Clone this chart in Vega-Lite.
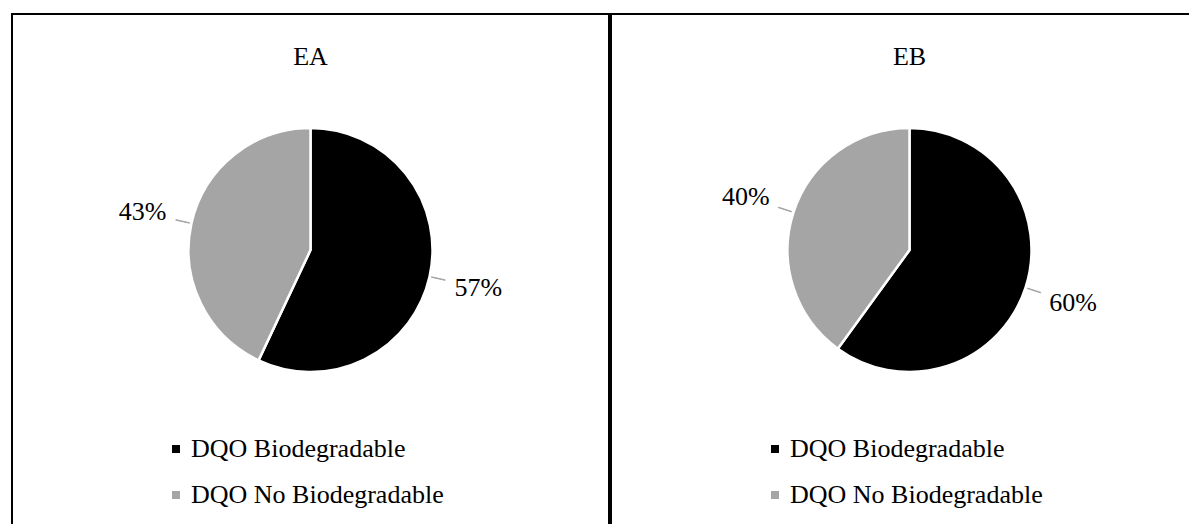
{
  "$schema": "https://vega.github.io/schema/vega-lite/v6.json",
  "padding": {"left": 11, "top": 13, "right": 0, "bottom": 0},
  "spacing": 0,
  "background": "white",
  "datasets": {
    "ea": [
      {"cat": "DQO Biodegradable", "value": 0.57},
      {"cat": "DQO No Biodegradable", "value": 0.43}
    ],
    "eb": [
      {"cat": "DQO Biodegradable", "value": 0.60},
      {"cat": "DQO No Biodegradable", "value": 0.40}
    ]
  },
  "config": {
    "font": "Liberation Serif",
    "view": {"stroke": "black", "strokeWidth": 2},
    "title": {"fontSize": 26, "fontWeight": "normal", "font": "Liberation Serif", "color": "black", "anchor": "middle"},
    "legend": {
      "orient": "none", "legendX": 151, "legendY": 422, "title": null,
      "symbolType": "square", "symbolSize": 64, "symbolStrokeWidth": 0,
      "labelFontSize": 26, "labelFont": "Liberation Serif", "labelColor": "black",
      "rowPadding": 20, "labelOffset": 2, "padding": 0, "labelLimit": 500
    }
  },
  "resolve": {"scale": {"color": "independent"}, "legend": {"color": "independent"}},
  "hconcat": [
    {
      "width": 597, "height": 560,
      "title": {"text": "EA", "offset": -56},
      "data": {"name": "ea"},
      "layer": [
        {
          "mark": {"type": "point", "opacity": 0, "size": 0, "filled": true},
          "encoding": {
            "x": {"datum": 0, "type": "quantitative", "axis": null},
            "y": {"datum": 0, "type": "quantitative", "axis": null}
          }
        },
        {
          "mark": {"type": "arc", "outerRadius": 122, "y": 236, "stroke": "white", "strokeWidth": 2.5},
          "encoding": {
            "theta": {"field": "value", "type": "quantitative", "stack": true},
            "order": {"field": "cat", "type": "ordinal", "sort": "ascending"},
            "color": {"field": "cat", "type": "nominal", "scale": {"domain": ["DQO Biodegradable", "DQO No Biodegradable"], "range": ["#000000", "#a5a5a5"]}}
          }
        },
        {
          "transform": [{"stack": "value", "groupby": [], "sort": [{"field": "cat", "order": "ascending"}], "as": ["s0", "s1"]}],
          "mark": {"type": "arc", "y": 236, "radius": 138, "radius2": 124, "theta": {"expr": "PI*(datum.s0+datum.s1) - 0.002"}, "theta2": {"expr": "PI*(datum.s0+datum.s1) + 0.002"}, "color": "#a6a6a6", "stroke": "#a6a6a6", "strokeWidth": 1},
          "encoding": {}
        },
        {
          "mark": {"type": "text", "radius": 172, "y": 236, "fontSize": 26, "font": "Liberation Serif", "color": "black"},
          "encoding": {
            "theta": {"field": "value", "type": "quantitative", "stack": true},
            "order": {"field": "cat", "type": "ordinal", "sort": "ascending"},
            "text": {"field": "value", "type": "quantitative", "format": ".0%"}
          }
        }
      ]
    },
    {
      "width": 597, "height": 560,
      "title": {"text": "EB", "offset": -56},
      "data": {"name": "eb"},
      "layer": [
        {
          "mark": {"type": "point", "opacity": 0, "size": 0, "filled": true},
          "encoding": {
            "x": {"datum": 0, "type": "quantitative", "axis": null},
            "y": {"datum": 0, "type": "quantitative", "axis": null}
          }
        },
        {
          "mark": {"type": "arc", "outerRadius": 122, "y": 236, "stroke": "white", "strokeWidth": 2.5},
          "encoding": {
            "theta": {"field": "value", "type": "quantitative", "stack": true},
            "order": {"field": "cat", "type": "ordinal", "sort": "ascending"},
            "color": {"field": "cat", "type": "nominal", "scale": {"domain": ["DQO Biodegradable", "DQO No Biodegradable"], "range": ["#000000", "#a5a5a5"]}}
          }
        },
        {
          "transform": [{"stack": "value", "groupby": [], "sort": [{"field": "cat", "order": "ascending"}], "as": ["s0", "s1"]}],
          "mark": {"type": "arc", "y": 236, "radius": 138, "radius2": 124, "theta": {"expr": "PI*(datum.s0+datum.s1) - 0.002"}, "theta2": {"expr": "PI*(datum.s0+datum.s1) + 0.002"}, "color": "#a6a6a6", "stroke": "#a6a6a6", "strokeWidth": 1},
          "encoding": {}
        },
        {
          "mark": {"type": "text", "radius": 172, "y": 236, "fontSize": 26, "font": "Liberation Serif", "color": "black"},
          "encoding": {
            "theta": {"field": "value", "type": "quantitative", "stack": true},
            "order": {"field": "cat", "type": "ordinal", "sort": "ascending"},
            "text": {"field": "value", "type": "quantitative", "format": ".0%"}
          }
        }
      ]
    }
  ]
}
